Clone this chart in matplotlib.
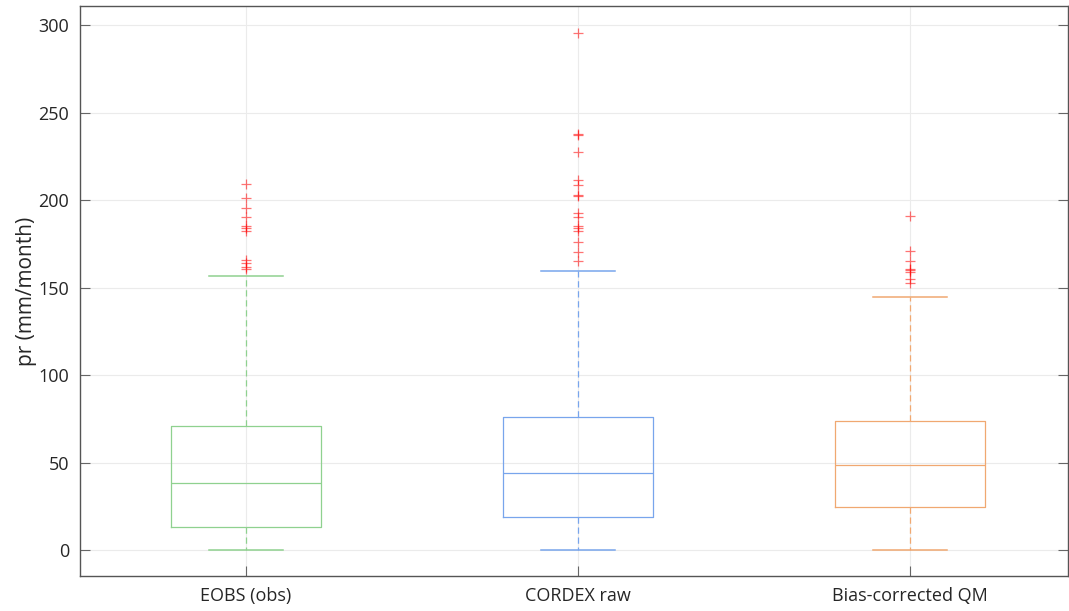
import matplotlib
matplotlib.use("Agg")
import matplotlib.pyplot as plt

categories = ["EOBS (obs)", "CORDEX raw", "Bias-corrected QM"]
whislo = [0.0, 0.0, 0.0]
q1 = [13.1, 18.7, 24.4]
med = [38.5, 43.8, 48.4]
q3 = [71.0, 75.8, 73.9]
whishi = [156.7, 159.6, 144.6]
outliers = [
    [209.0, 200.9, 195.6, 190.5, 185.1, 183.8, 182.5, 165.7, 164.2, 161.9, 160.4],
    [295.6, 237.1, 237.6, 227.6, 211.4, 208.4, 202.3, 202.8, 192.4, 190.5, 185.1, 183.8, 182.5, 176.0, 170.1, 165.3],
    [191.0, 170.9, 165.0, 160.8, 160.0, 158.9, 154.7, 152.7],
]
colors = ["#8fd18f", "#78a5ec", "#f0a871"]
yticks = [0, 50, 100, 150, 200, 250, 300]

plt.rcParams['font.family'] = ['Open Sans', 'DejaVu Sans']
fig = plt.figure(figsize=(10.69, 6.11), dpi=100)
ax = fig.add_axes([80/1069, (611-576.3)/611, 988/1069, 570/611])

stats = []
for i, c in enumerate(categories):
    stats.append(dict(label=c, whislo=whislo[i], q1=q1[i], med=med[i],
                      q3=q3[i], whishi=whishi[i], fliers=outliers[i]))

positions = [1, 2, 3]
for i, s in enumerate(stats):
    col = colors[i]
    ax.bxp([s], positions=[positions[i]], widths=0.45, capwidths=0.225,
           boxprops=dict(color=col, lw=0.9),
           medianprops=dict(color=col, lw=0.9),
           whiskerprops=dict(color=col, lw=0.9, linestyle=(0, (5, 3))),
           capprops=dict(color=col, lw=1.1),
           flierprops=dict(marker='+', markeredgecolor='red', alpha=0.55,
                           markersize=7, markeredgewidth=0.9, linestyle='none'),
           zorder=3)

ax.set_xlim(0.5, 3.476)
ax.set_ylim(-15, 310.7)
ax.set_xticks(positions)
ax.set_xticklabels(categories)
ax.set_yticks(yticks)
ax.grid(True, color='#ebebeb', lw=0.8, zorder=0)
ax.set_axisbelow(True)
ax.tick_params(direction='in', length=7, color='#666666', labelsize=13,
               labelcolor='#262626', right=True, pad=8)
for sp in ax.spines.values():
    sp.set_color('#555555')
    sp.set_linewidth(1.0)
ax.set_ylabel("pr (mm/month)", fontsize=15, color='#262626', labelpad=1)

fig.savefig("out.png", dpi=100)
